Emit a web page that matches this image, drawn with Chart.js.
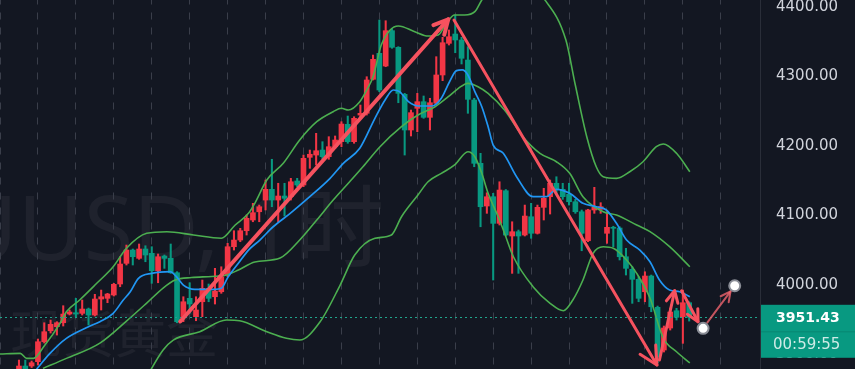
<!DOCTYPE html>
<html>
<head>
<meta charset="utf-8">
<script src="https://cdn.jsdelivr.net/npm/chart.js@4.4.1/dist/chart.umd.min.js"></script>
<style>
html, body { margin: 0; padding: 0; background: #131722; }
#contenedor { width: 855px; height: 369px; }
</style>
</head>
<body>
<div id="contenedor"><canvas id="grafica" width="855" height="369"></canvas></div>
<script>
// Velas de 1 hora (índice de barra a partir de primeraVela)
const primeraVela = 3;
const aperturas = [
    3874.2, 3881.4, 3881.4, 3887.6, 3916.3, 3932.1, 3937.9, 3943.6, 3956.1, 3958.0,
    3957.1, 3963.3, 3954.7, 3977.7, 3978.7, 3983.5, 3999.3, 4029.0, 4048.1, 4036.2,
    4049.6, 4043.4, 4018.4, 4039.5, 4036.2, 4015.5, 3952.3, 3978.7, 3952.3, 3973.8,
    3993.1, 3981.0, 3988.2, 4012.2, 4052.9, 4062.5, 4075.9, 4091.3, 4103.2, 4120.0,
    4135.4, 4120.0, 4125.8, 4124.8, 4147.4, 4141.6, 4181.4, 4184.7, 4191.9, 4182.3,
    4196.7, 4203.9, 4228.9, 4203.9, 4242.2, 4244.7, 4293.6, 4330.9, 4312.7, 4363.5,
    4339.6, 4272.0, 4220.7, 4251.9, 4261.4, 4238.9, 4259.1, 4299.8, 4345.3, 4358.7,
    4350.1, 4321.3, 4263.8, 4172.8, 4111.4, 4124.8, 4086.5, 4133.4, 4068.3, 4074.5,
    4069.7, 4096.0, 4072.2, 4109.5, 4124.8, 4144.1, 4135.4, 4128.2, 4117.6, 4103.2,
    4061.5, 4105.7, 4106.7, 4072.2, 4080.8, 4079.8, 4038.5, 4020.4, 4006.0, 3988.2,
    4010.8, 3965.8, 3904.4, 3936.0, 3960.9, 3952.3, 3972.4
];
const maximos = [
    3890.0, 3890.0, 3888.6, 3920.2, 3943.6, 3947.5, 3945.1, 3968.1, 3961.9, 3978.7,
    3976.3, 3964.7, 3984.5, 3990.6, 3985.9, 4000.3, 4038.5, 4055.3, 4049.6, 4056.8,
    4054.3, 4052.9, 4042.4, 4041.0, 4056.8, 4017.0, 3981.0, 4001.1, 3981.0, 4005.0,
    3999.3, 4021.8, 4024.1, 4057.8, 4075.9, 4079.3, 4098.5, 4115.3, 4112.8, 4148.8,
    4178.6, 4144.1, 4144.1, 4151.2, 4151.2, 4184.7, 4191.9, 4215.9, 4203.9, 4211.1,
    4212.1, 4232.6, 4240.8, 4239.8, 4256.6, 4297.3, 4328.5, 4378.8, 4377.8, 4366.9,
    4340.5, 4273.4, 4249.4, 4273.4, 4269.6, 4266.3, 4326.1, 4354.0, 4364.5, 4386.0,
    4354.0, 4340.5, 4266.3, 4187.2, 4130.5, 4129.7, 4146.3, 4135.1, 4088.8, 4076.9,
    4112.8, 4115.3, 4112.8, 4136.9, 4148.8, 4153.5, 4144.1, 4144.1, 4121.0, 4105.7,
    4106.7, 4138.3, 4116.2, 4103.2, 4082.3, 4081.6, 4050.6, 4024.1, 4009.8, 4016.9,
    4012.2, 3967.6, 3938.9, 3964.7, 3964.3, 3990.6, 3973.8
];
const minimos = [
    3869.9, 3868.4, 3879.2, 3882.8, 3914.4, 3928.8, 3925.9, 3938.9, 3954.7, 3952.3,
    3954.7, 3940.3, 3953.3, 3961.9, 3972.4, 3982.0, 3995.4, 4026.6, 4026.6, 4034.8,
    4031.3, 4000.3, 4001.1, 4021.8, 4014.6, 3943.6, 3945.1, 3957.1, 3946.5, 3952.3,
    3973.8, 3970.5, 3985.9, 4009.8, 4048.1, 4060.1, 4069.7, 4088.8, 4088.8, 4105.7,
    4110.4, 4088.8, 4097.0, 4120.0, 4139.2, 4139.2, 4165.6, 4170.4, 4178.6, 4178.6,
    4194.4, 4196.7, 4201.6, 4201.6, 4239.8, 4242.2, 4292.6, 4275.8, 4311.7, 4338.2,
    4259.9, 4184.7, 4212.1, 4218.3, 4237.5, 4220.7, 4258.1, 4291.6, 4342.9, 4331.8,
    4315.6, 4244.7, 4167.9, 4081.6, 4100.9, 4005.0, 4084.1, 4068.3, 4014.6, 4014.6,
    4068.3, 4065.0, 4071.1, 4091.3, 4099.9, 4129.7, 4121.0, 4112.8, 4100.9, 4047.1,
    4060.1, 4100.9, 4100.9, 4057.8, 4052.9, 4033.8, 4012.2, 3971.5, 3973.8, 3973.8,
    3959.4, 3886.1, 3901.5, 3933.1, 3947.5, 3914.0, 3946.0
];
const cierres = [
    3881.4, 3872.7, 3886.1, 3916.3, 3930.7, 3941.3, 3943.6, 3956.1, 3959.0, 3956.1,
    3963.3, 3954.7, 3977.7, 3981.0, 3984.9, 3998.8, 4028.0, 4048.1, 4038.5, 4049.6,
    4041.0, 4018.4, 4038.5, 4036.2, 4015.5, 3945.1, 3973.8, 3970.5, 3961.9, 3993.1,
    3978.7, 3989.2, 4009.8, 4052.9, 4062.5, 4075.9, 4093.7, 4101.8, 4110.4, 4135.4,
    4120.0, 4125.8, 4122.5, 4146.3, 4141.6, 4180.0, 4185.8, 4190.9, 4182.3, 4196.7,
    4206.3, 4229.3, 4203.9, 4237.5, 4244.7, 4292.6, 4322.3, 4278.2, 4363.5, 4339.6,
    4273.4, 4220.7, 4245.6, 4261.4, 4238.9, 4259.9, 4299.8, 4346.2, 4354.8, 4350.1,
    4323.8, 4264.8, 4172.8, 4110.4, 4124.8, 4086.5, 4134.4, 4069.7, 4074.5, 4068.3,
    4097.0, 4072.2, 4109.5, 4122.5, 4144.1, 4135.4, 4124.8, 4117.6, 4103.2, 4072.2,
    4105.7, 4109.5, 4110.4, 4080.8, 4079.4, 4038.5, 4021.8, 4006.0, 3978.7, 4010.8,
    3966.6, 3894.7, 3936.0, 3959.0, 3951.4, 3972.4, 3951.43
];

// Media móvil (azul)
const mediaX = [5.8, 7.9, 10.5, 14, 15.8, 17.9, 19.5, 20.6, 21.9, 24, 26.9, 27.9, 29, 30.8, 34, 35, 36.1, 37.7, 39.3, 41.1,
    43.2, 45.9, 49, 52.2, 54.3, 56.9, 59.3, 60.9, 62.2, 63.2, 64.6, 66.1, 68.3, 69.8, 71.1, 72.2, 73.1, 74, 75.1, 76.2,
    77.2, 78, 79.6, 81.7, 84.3, 86.4, 88, 90.1, 92.2, 94.3, 95.9, 97.5, 99.1, 101.2, 102.8, 104.3, 105.9, 107.5, 109.1];
const mediaY = [3877, 3899.6, 3921.2, 3937.9, 3945.1, 3957.1, 3976.3, 3988.2, 4007.5, 4014.6, 4017.0, 4009.8, 3997.8, 3991.6, 3991.6, 3993.1, 4009.8, 4029.0, 4048.1, 4062.5,
    4081.6, 4100.9, 4124.8, 4151.2, 4172.8, 4194.4, 4237.5, 4263.8, 4278.2, 4275.8, 4261.4, 4255.2, 4255.2, 4266.3, 4290.1, 4306.0, 4307.0, 4299.8, 4275.8, 4254.2,
    4225.4, 4199.1, 4187.2, 4153.5, 4124.8, 4124.8, 4135.4, 4129.7, 4115.3, 4110.4, 4105.7, 4086.5, 4062.5, 4048.1, 4031.3, 4005.0, 3990.6, 3988.2, 3981.0];

// Bandas de Bollinger (verde)
const bandaSupX = [0, 3.2, 4.2, 5.3, 6.9, 9.5, 10.5, 12.6, 15.3, 17.9, 20, 23.2, 26.4, 30.6, 35, 37.2, 39.3, 40.3, 42.2, 44.8,
    47.4, 50.1, 52.7, 54, 55.1, 56.9, 58, 59, 60.3, 61.7, 63, 65.6, 67.7, 69.3, 70.6, 71.9, 73.5, 75.1, 76.2, 79,
    82, 86, 89.5, 91, 92.8, 94.3, 95.4, 97.5, 99.6, 101.7, 103.8, 104.9, 107, 109.1];
const bandaSupY = [3898.6, 3899.6, 3892.4, 3892.4, 3909.1, 3942.8, 3959.4, 3976.3, 4000.3, 4024.1, 4050.6, 4072.2, 4074.5, 4069.7, 4065.0, 4084.1, 4100.9, 4115.3, 4148.8, 4172.8,
    4206.3, 4232.6, 4247.0, 4251.9, 4249.4, 4261.4, 4278.2, 4297.3, 4342.9, 4364.5, 4370.2, 4362.0, 4355.8, 4357.3, 4374.1, 4386.0, 4386.0, 4390.8, 4407.6, 4440,
    4445, 4410, 4350, 4285, 4211.1, 4167.9, 4153.5, 4151.2, 4160.7, 4175.1, 4196.7, 4200.6, 4187.2, 4160.7];
const bandaMedX = [6.8, 10.5, 15.8, 20, 23.2, 25.8, 27.7, 30.3, 33.5, 35.8, 37.7, 40.3, 44.3, 47.4, 50.1, 52.7, 55.3, 57.4, 60.1, 63.5,
    66.1, 68.8, 70.9, 72.5, 74, 75.6, 77.2, 79.8, 82.7, 85.4, 88, 90.1, 92.2, 95.4, 97.5, 100.7, 102.8, 105.9, 109.1];
const bandaMedY = [3878, 3892.4, 3914.4, 3946, 3971.9, 3993.5, 4005.0, 4008.6, 4010.1, 4012.2, 4019.4, 4030.9, 4036.6, 4062.5, 4091.3, 4120.0, 4146.3, 4167.9, 4196.7, 4225.4,
    4242.2, 4254.2, 4268.6, 4280.6, 4287.8, 4283.0, 4273.4, 4249.4, 4211.1, 4187.2, 4175.1, 4158.4, 4124.8, 4103.2, 4098.5, 4084.1, 4074.5, 4052.9, 4024.1];
const bandaInfX = [22.9, 25.8, 27.4, 31.6, 35.8, 37.9, 42.2, 45.3, 47.4, 50.6, 53.8, 56.1, 59.3, 61.9, 63.5, 66.1, 67.7, 69.8, 71.9, 74,
    75.1, 76.2, 77.2, 78.8, 79.8, 81.2, 84.3, 87, 89.1, 90.6, 92.2, 93.8, 95.4, 97, 99.1, 100.7, 102.8, 104.9, 107, 109.1];
const bandaInfY = [3861, 3904.4, 3918.7, 3930.7, 3947.5, 3946.5, 3930.7, 3921.2, 3918.7, 3944.6, 3997.8, 4040.9, 4065.0, 4069.7, 4096.0, 4127.2, 4146.3, 4158.4, 4170.4, 4189.5,
    4182.3, 4158.4, 4129.7, 4096.0, 4072.2, 4038.5, 3995.4, 3971.5, 3960.9, 3976.3, 4005.0, 4043.4, 4052.9, 4050.6, 4033.8, 4014.6, 3979.1, 3921.6, 3901.9, 3885.8];

// Eje de precios
const etiquetasPrecio = [3900, 4000, 4100, 4200, 4300, 4400];
const precioActual = 3951.43;
const cuentaAtras = "00:59:55";
const marcaAgua = ["XAUUSD, 1时", "现货黄金"];

// Flechas dibujadas (barra, precio)
const flechasInicio = [[28.5, 3945.4], [71.8, 4378.8], [104.3, 3890.0], [107.8, 3989.6], [111.2, 3935.6]];
const flechasFin = [[70.9, 4379.9], [103.9, 3882.8], [106.7, 3989.6], [110.4, 3945.1], [116.2, 3996.8]];
const nodos = [[111.2, 3935.6], [116.2, 3996.8]];

const ROJO = "#f23645";
const VERDE = "#089981";
const FLECHA = "#f6525f";

const velas = aperturas.map((o, k) => ({ x: primeraVela + k, o: o, h: maximos[k], l: minimos[k], c: cierres[k] }));
const colores = velas.map(v => v.c >= v.o ? ROJO : VERDE);

function puntos(xs, ys) {
    return xs.map((x, k) => ({ x: x, y: ys[k] }));
}

function lineaIndicador(datos, color, ancho) {
    return {
        type: "line",
        data: datos,
        borderColor: color,
        borderWidth: ancho,
        pointRadius: 0,
        cubicInterpolationMode: "monotone",
        order: 0
    };
}

function flecha(ctx, x1, y1, x2, y2, ancho, punta, color) {
    const ang = Math.atan2(y2 - y1, x2 - x1);
    ctx.strokeStyle = color;
    ctx.lineWidth = ancho;
    ctx.lineCap = "round";
    ctx.lineJoin = "round";
    ctx.beginPath();
    ctx.moveTo(x1, y1);
    ctx.lineTo(x2, y2);
    ctx.stroke();
    ctx.beginPath();
    ctx.moveTo(x2 - punta * Math.cos(ang - 0.47), y2 - punta * Math.sin(ang - 0.47));
    ctx.lineTo(x2, y2);
    ctx.lineTo(x2 - punta * Math.cos(ang + 0.47), y2 - punta * Math.sin(ang + 0.47));
    ctx.stroke();
}

// Fondo, marca de agua, flechas y eje de precios
const dibujoExtra = {
    id: "dibujoExtra",
    beforeDraw(chart) {
        const ctx = chart.ctx;
        ctx.save();
        ctx.fillStyle = "#131722";
        ctx.fillRect(0, 0, chart.width, chart.height);
        ctx.fillStyle = "rgba(255,255,255,0.05)";
        ctx.textAlign = "center";
        ctx.textBaseline = "alphabetic";
        ctx.font = '90px "Noto Sans", "Noto Sans CJK SC", sans-serif';
        ctx.fillText(marcaAgua[0], 113, 260);
        ctx.font = '52px "Noto Sans CJK SC", sans-serif';
        ctx.fillText(marcaAgua[1], 114, 353);
        ctx.restore();
    },
    afterDatasetsDraw(chart) {
        const { ctx, chartArea: a, scales: { x, y } } = chart;
        ctx.save();
        ctx.beginPath();
        ctx.rect(a.left, a.top, a.right - a.left, a.bottom - a.top);
        ctx.clip();

        // línea del precio actual
        const yp = Math.round(y.getPixelForValue(precioActual)) + 0.5;
        ctx.strokeStyle = "#1fa58c";
        ctx.lineWidth = 1;
        ctx.setLineDash([2, 3]);
        ctx.beginPath();
        ctx.moveTo(a.left, yp);
        ctx.lineTo(a.right, yp);
        ctx.stroke();
        ctx.setLineDash([]);

        const anchos = [4, 3, 3, 3, 2];
        const puntas = [16, 20, 13, 13, 11];
        flechasInicio.forEach((ini, k) => {
            let x1 = x.getPixelForValue(ini[0]), y1 = y.getPixelForValue(ini[1]);
            let x2 = x.getPixelForValue(flechasFin[k][0]), y2 = y.getPixelForValue(flechasFin[k][1]);
            let color = FLECHA;
            if (k === 4) {
                // entre los dos nodos, recortada al borde de los círculos
                const d = Math.hypot(x2 - x1, y2 - y1);
                const ux = (x2 - x1) / d, uy = (y2 - y1) / d;
                x1 += ux * 7; y1 += uy * 7;
                x2 -= ux * 7; y2 -= uy * 7;
                color = "rgba(240,100,110,0.8)";
            }
            flecha(ctx, x1, y1, x2, y2, anchos[k], puntas[k], color);
        });

        nodos.forEach(n => {
            ctx.beginPath();
            ctx.arc(x.getPixelForValue(n[0]), y.getPixelForValue(n[1]), 5.5, 0, Math.PI * 2);
            ctx.fillStyle = "#ffffff";
            ctx.fill();
            ctx.lineWidth = 2;
            ctx.strokeStyle = "#8a8d96";
            ctx.stroke();
        });
        ctx.restore();
    },
    afterDraw(chart) {
        const { ctx, chartArea: a, scales: { y } } = chart;
        const ejeX = a.right;
        ctx.save();
        ctx.fillStyle = "#2a2e39";
        ctx.fillRect(ejeX, 0, 1, chart.height);

        ctx.font = '15px "DejaVu Sans", sans-serif';
        ctx.fillStyle = "#d1d4dc";
        ctx.textAlign = "left";
        ctx.textBaseline = "middle";
        etiquetasPrecio.forEach(v => {
            ctx.fillText(v.toFixed(2), ejeX + 16, y.getPixelForValue(v) + 1.5);
        });

        // caja del último precio y cuenta atrás
        const yp = y.getPixelForValue(precioActual);
        ctx.fillStyle = VERDE;
        ctx.fillRect(ejeX + 1, yp - 12.5, chart.width - ejeX - 1, 53);
        ctx.fillStyle = "rgba(0,0,0,0.12)";
        ctx.fillRect(ejeX + 1, yp + 14, chart.width - ejeX - 1, 1);
        ctx.fillStyle = "#ffffff";
        ctx.font = 'bold 14px "DejaVu Sans", sans-serif';
        ctx.fillText(precioActual.toFixed(2), ejeX + 16, yp + 1);
        ctx.fillStyle = "rgba(255,255,255,0.8)";
        ctx.font = '15px "DejaVu Sans", sans-serif';
        ctx.fillText(cuentaAtras, ejeX + 13, yp + 28);
        ctx.restore();
    }
};

const ctx = document.getElementById("grafica").getContext("2d");
new Chart(ctx, {
    type: "bar",
    data: {
        datasets: [
            lineaIndicador(puntos(mediaX, mediaY), "#2196f3", 1.7),
            lineaIndicador(puntos(bandaSupX, bandaSupY), "#4caf50", 1.6),
            lineaIndicador(puntos(bandaMedX, bandaMedY), "#4caf50", 1.6),
            lineaIndicador(puntos(bandaInfX, bandaInfY), "#4caf50", 1.6),
            {
                type: "bar",
                label: "cuerpo",
                data: velas.map(v => ({ x: v.x, y: [v.o, v.c] })),
                backgroundColor: colores,
                borderWidth: 0,
                barThickness: 5,
                minBarLength: 1,
                grouped: false,
                order: 1
            },
            {
                type: "bar",
                label: "mecha",
                data: velas.map(v => ({ x: v.x, y: [v.l, v.h] })),
                backgroundColor: colores,
                borderWidth: 0,
                barThickness: 1.4,
                grouped: false,
                order: 2
            }
        ]
    },
    options: {
        responsive: false,
        animation: false,
        devicePixelRatio: 1,
        layout: { padding: { left: 0, right: 95, top: 0, bottom: 0 } },
        plugins: {
            legend: { display: false },
            tooltip: { enabled: false }
        },
        scales: {
            x: {
                type: "linear",
                min: 0,
                max: 120.2,
                offset: false,
                ticks: { display: false, stepSize: 6 },
                grid: { offset: false, drawTicks: false, color: "#3a3e4a", lineWidth: 1 },
                border: { display: false, dash: [7, 8], dashOffset: 2.5 }
            },
            y: {
                display: false,
                min: 3877.1,
                max: 4407.6
            }
        }
    },
    plugins: [dibujoExtra]
});
</script>
</body>
</html>
